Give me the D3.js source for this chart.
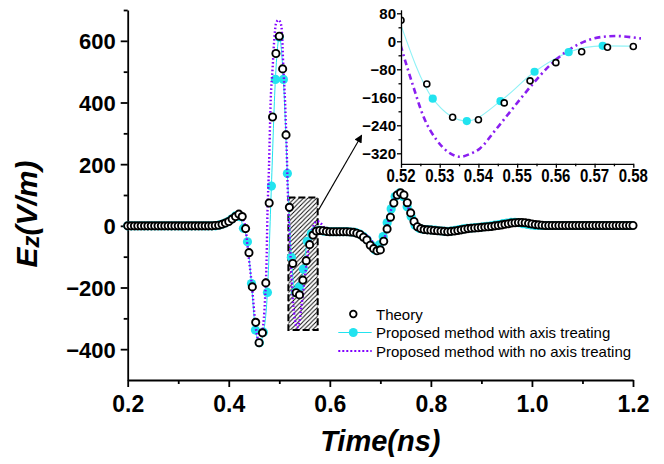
<!DOCTYPE html>
<html>
<head>
<meta charset="utf-8">
<script src="https://cdn.jsdelivr.net/npm/d3@7"></script>
<style>
  body { margin: 0; background: #fff; }
  svg { display: block; }
  text { font-family: "Liberation Sans", Arial, sans-serif; fill: #000; }
</style>
</head>
<body>
<svg id="chart" width="664" height="464"></svg>
<script>
// ---- data -------------------------------------------------------------
// Theory: analytic field sampled every 1/150 ns from 0.2 ns
const theoryStart = 0.2;
const theoryStep = 1 / 150;
const theoryValues = [
  0, 0, 0, 0, 0, 0, 0, 0, 0, 0, 0, 0, 0, 0, 0, 0, 0, 0, 0, 0, 0, 0, 0, 0, 0, 0, 1,
  2, 5, 9, 14, 22, 30, 38, 30, -9, -87, -198, -313, -379, -347, -185, 74, 353, 559,
  615, 509, 295, 60, -122, -217, -224, -176, -113, -61, -30, -17, -15, -16, -18, -19,
  -19, -19, -19, -19, -19, -20, -21, -24, -28, -37, -46, -63, -74, -81, -78, -50, -10,
  28, 74, 100, 107, 100, 75, 42, 14, -3, -9, -12, -13, -14, -15, -16, -17, -18, -19,
  -18, -17, -15, -13, -11, -9, -8, -7, -6, -5, -4, -3, -2, 0, 1, 3, 5, 7, 9, 10, 11,
  11, 10, 8, 6, 4, 3, 2, 1,
  1, 1, 1, 1, 1, 1, 1, 1, 1, 1, 1, 1, 1, 1, 1, 1, 1, 1, 1, 1, 1, 1, 1, 1, 1, 1
];

// Proposed method with axis treating: output samples every 0.0079 ns
const axisStart = 0.2;
const axisStep = 0.0079;
const axisValues = [
  0, 0, 0, 0, 0, 0, 0, 0, 0, 0, 0, 0, 0, 0, 0, 0, 0, 0, 0, 0, 0, 0, 0,
  3, 7, 13, 22, 32, 30, -8, -52, -187, -338, -379, -345, -216, 129, 475, 612, 475,
  170, -102, -215, -198, -140, -50, -25, -17, -15, -17, -18, -19, -19, -19, -19, -19,
  -20, -21, -26, -34, -45, -62, -78, -62, -35, 10, 55, 95, 106, 95, 62, 30, 2, -8,
  -11, -12, -13, -14, -16, -17, -18, -17, -15, -12, -10, -8, -7, -6, -5, -3, -2, 0,
  2, 4, 7, 9, 11, 11, 10, 7, 5, 3, 1,
  1, 1, 1, 1, 1, 1, 1, 1, 1, 1, 1, 1, 1, 1, 1, 1, 1, 1, 1, 1, 1, 1, 1, 1
];

// Proposed method with no axis treating
const noAxisTimes = [
  0.2, 0.37, 0.38, 0.39, 0.40, 0.41, 0.418, 0.423, 0.427, 0.4321, 0.4387, 0.4466,
  0.4519, 0.4565, 0.4605, 0.4635, 0.4671, 0.4717, 0.4751, 0.4763, 0.4796, 0.4830,
  0.4869, 0.4895, 0.4935, 0.498, 0.5015, 0.5047, 0.508, 0.5113, 0.5147, 0.5166,
  0.52, 0.5232, 0.5258, 0.5292, 0.5327, 0.5353, 0.5378, 0.5404, 0.5443, 0.5482,
  0.5538, 0.5585, 0.5633, 0.568, 0.5723, 0.5758, 0.58, 0.585, 0.59, 0.6, 0.62,
  0.66, 0.67, 0.68, 0.688, 0.695, 0.701, 0.706, 0.711, 0.716, 0.721, 0.728, 0.735,
  0.742, 0.75, 0.757, 0.765, 0.772, 0.78, 0.8, 0.83, 0.86, 0.9, 0.94, 0.975, 1.0,
  1.03, 1.2
];
const noAxisValues = [
  0, 0, 2, 6, 14, 27, 37, 35, 24, 4, -90, -208,
  -306, -360, -376, -370, -338, -241, -90, 18, 191, 407,
  515, 591, 656, 667, 662, 640, 515, 407, 245, 126,
  -15, -130, -215, -282, -320, -330, -322, -306, -255, -201,
  -125, -68, -25, 2, 13, 15, 11, 3, -8, -16, -19,
  -21, -28, -42, -62, -77, -74, -55, -22, 15, 51, 88, 104,
  104, 82, 50, 16, -2, -10, -13, -19, -16, -5, 3, 11, 6,
  1, 1
];

// Enlarged window 0.52-0.58 ns: axis-treated output
const zoomAxisTimes = [0.5194, 0.5282, 0.537, 0.5457, 0.5545, 0.5633, 0.5721, 0.5809];
const zoomAxisValues = [65, -164, -228, -171, -87, -31, -13, -14];

// Axes
const xTicks = [0.2, 0.4, 0.6, 0.8, 1.0, 1.2];
const xMinorTicks = [0.3, 0.5, 0.7, 0.9, 1.1];
const yTicks = [-400, -200, 0, 200, 400, 600];
const yMinorTicks = [-300, -100, 100, 300, 500, 700];
const zoomXTicks = [0.52, 0.53, 0.54, 0.55, 0.56, 0.57, 0.58];
const zoomXMinorTicks = [0.525, 0.535, 0.545, 0.555, 0.565, 0.575];
const zoomYTicks = [-320, -240, -160, -80, 0, 80];
const zoomYMinorTicks = [-280, -200, -120, -40, 40];
const legendLabels = [
  "Theory",
  "Proposed method with axis treating",
  "Proposed method with no axis treating"
];

// ---- drawing ----------------------------------------------------------
const CYAN = "#22e3ef";
const VIOLET = "#8000ff";

const theory = theoryValues.map((v, i) => ({ t: theoryStart + i * theoryStep, v }));
const axisTreated = axisValues.map((v, i) => ({ t: axisStart + i * axisStep, v }));
const noAxis = noAxisTimes.map((t, i) => ({ t, v: noAxisValues[i] }));
const zoomAxis = zoomAxisTimes.map((t, i) => ({ t, v: zoomAxisValues[i] }));

const svg = d3.select("#chart");

const x = d3.scaleLinear().domain([0.2, 1.2]).range([127.7, 633]);
const y = d3.scaleLinear().domain([-500, 700]).range([380, 10]);

// hatch pattern for the enlarged window marker
const defs = svg.append("defs");
const hatch = defs.append("pattern")
  .attr("id", "hatch").attr("patternUnits", "userSpaceOnUse")
  .attr("width", 4.4).attr("height", 4.4);
hatch.append("path")
  .attr("d", "M0,4.4 L4.4,0 M-1.1,1.1 L1.1,-1.1 M3.3,5.5 L5.5,3.3")
  .attr("stroke", "#000").attr("stroke-width", 0.9);

defs.append("marker")
  .attr("id", "arrowhead").attr("viewBox", "0 0 10 10")
  .attr("refX", 9).attr("refY", 5)
  .attr("markerWidth", 11).attr("markerHeight", 8)
  .attr("markerUnits", "userSpaceOnUse")
  .attr("orient", "auto")
  .append("path").attr("d", "M0,0 L10,5 L0,10 Z").attr("fill", "#000");

defs.append("clipPath").attr("id", "zoomClip")
  .append("rect").attr("x", 401).attr("y", 4).attr("width", 240).attr("height", 162);

// main axes
function styleAxis(g, w) {
  g.selectAll("path.domain").attr("stroke", "#000").attr("stroke-width", w);
  g.selectAll(".tick line").attr("stroke", "#000").attr("stroke-width", w);
}

const gx = svg.append("g").attr("transform", "translate(0,380)")
  .call(d3.axisBottom(x).tickValues(xTicks).tickSize(7).tickSizeOuter(0)
    .tickFormat(d3.format(".1f")));
styleAxis(gx, 1.8);
gx.selectAll("text").attr("font-size", 23).attr("font-weight", "bold")
  .attr("y", 31.7).attr("dy", null);

const gxm = svg.append("g").attr("transform", "translate(0,380)")
  .call(d3.axisBottom(x).tickValues(xMinorTicks).tickSize(4).tickFormat(""));
gxm.select("path.domain").remove();
styleAxis(gxm, 1.8);

const gy = svg.append("g").attr("transform", "translate(127.7,0)")
  .call(d3.axisLeft(y).tickValues(yTicks).tickSize(7).tickPadding(5).tickSizeOuter(0));
styleAxis(gy, 1.8);
gy.selectAll("text").attr("font-size", 22).attr("font-weight", "bold")
  .attr("dy", "0.36em");

const gym = svg.append("g").attr("transform", "translate(127.7,0)")
  .call(d3.axisLeft(y).tickValues(yMinorTicks).tickSize(4).tickFormat(""));
gym.select("path.domain").remove();
styleAxis(gym, 1.8);

// axis titles
svg.append("text")
  .attr("x", (x.range()[0] + x.range()[1]) / 2).attr("y", 451)
  .attr("text-anchor", "middle")
  .attr("font-size", 29).attr("font-weight", "bold").attr("font-style", "italic")
  .text("Time(ns)");

const yTitle = svg.append("text")
  .attr("transform", "translate(37,214) rotate(-90)")
  .attr("text-anchor", "middle")
  .attr("font-size", 30).attr("font-weight", "bold").attr("font-style", "italic");
yTitle.append("tspan").text("E");
yTitle.append("tspan").attr("font-size", 24).attr("dy", 2).text("z");
yTitle.append("tspan").attr("dy", -2).text("(V/m)");

// enlarged-window marker
const winT = [0.518, 0.576];
const winV = [92, -338];
svg.append("rect")
  .attr("x", x(winT[0])).attr("y", y(winV[0]))
  .attr("width", x(winT[1]) - x(winT[0])).attr("height", y(winV[1]) - y(winV[0]))
  .attr("fill", "url(#hatch)")
  .attr("stroke", "#000").attr("stroke-width", 2).attr("stroke-dasharray", "7,3");

// series in the main panel
const lineMain = d3.line().x(d => x(d.t)).y(d => y(d.v));

svg.append("path").datum(axisTreated)
  .attr("d", lineMain.curve(d3.curveMonotoneX))
  .attr("fill", "none").attr("stroke", CYAN).attr("stroke-width", 1);
svg.append("g").selectAll("circle").data(axisTreated).join("circle")
  .attr("cx", d => x(d.t)).attr("cy", d => y(d.v)).attr("r", 4.6)
  .attr("fill", CYAN);

svg.append("path").datum(noAxis)
  .attr("d", lineMain.curve(d3.curveMonotoneX))
  .attr("fill", "none").attr("stroke", VIOLET).attr("stroke-width", 2.4)
  .attr("stroke-dasharray", "1.6,2.2");

svg.append("g").selectAll("circle").data(theory).join("circle")
  .attr("cx", d => x(d.t)).attr("cy", d => y(d.v)).attr("r", 3.6)
  .attr("fill", "#fff").attr("stroke", "#000").attr("stroke-width", 1.9);

// pointer to the enlarged view
const arrowFrom = [0.5775, 51];
const arrowTo = [0.663, 294];
svg.append("line")
  .attr("x1", x(arrowFrom[0])).attr("y1", y(arrowFrom[1]))
  .attr("x2", x(arrowTo[0])).attr("y2", y(arrowTo[1]))
  .attr("stroke", "#000").attr("stroke-width", 1.1)
  .attr("marker-end", "url(#arrowhead)");

// ---- enlarged view 0.52 - 0.58 ns --------------------------------------
const xi = d3.scaleLinear().domain([0.52, 0.58]).range([401, 633.3]);
const yi = d3.scaleLinear().domain([-350, 90]).range([163.8, 9.8]);
const inset = svg.append("g");
const plot = inset.append("g").attr("clip-path", "url(#zoomClip)");
const lineZoom = d3.line().x(d => xi(d.t)).y(d => yi(d.v)).curve(d3.curveMonotoneX);

plot.append("path").datum(zoomAxis).attr("d", lineZoom)
  .attr("fill", "none").attr("stroke", "#8ff2f6").attr("stroke-width", 1.1);
plot.append("path").datum(noAxis.filter(d => d.t >= 0.51 && d.t <= 0.59)).attr("d", lineZoom)
  .attr("fill", "none").attr("stroke", "#8a1ef0").attr("stroke-width", 2.6)
  .attr("stroke-dasharray", "6,3.5,2,3.5");
plot.append("g").selectAll("circle")
  .data(zoomAxis.filter(d => d.t >= 0.52 && d.t <= 0.58)).join("circle")
  .attr("cx", d => xi(d.t)).attr("cy", d => yi(d.v)).attr("r", 4.1).attr("fill", CYAN);
plot.append("g").selectAll("circle")
  .data(theory.filter(d => d.t > 0.515 && d.t < 0.585)).join("circle")
  .attr("cx", d => xi(d.t)).attr("cy", d => yi(d.v)).attr("r", 3)
  .attr("fill", "#fff").attr("stroke", "#000").attr("stroke-width", 1.6);

const gxi = inset.append("g").attr("transform", `translate(0,${yi(-350)})`)
  .call(d3.axisBottom(xi).tickValues(zoomXTicks).tickSize(4).tickSizeOuter(0).tickFormat(""));
styleAxis(gxi, 1.3);
const gxim = inset.append("g").attr("transform", `translate(0,${yi(-350)})`)
  .call(d3.axisBottom(xi).tickValues(zoomXMinorTicks).tickSize(2.5).tickFormat(""));
gxim.select("path.domain").remove();
styleAxis(gxim, 1.3);
inset.append("g").selectAll("text").data(zoomXTicks).join("text")
  .attr("transform", d => `translate(${xi(d)},181.7) scale(1,1.22)`)
  .attr("text-anchor", "middle").attr("font-size", 15).attr("font-weight", "bold")
  .text(d3.format(".2f"));

const gyi = inset.append("g").attr("transform", "translate(401,0)")
  .call(d3.axisLeft(yi).tickValues(zoomYTicks).tickSize(4).tickPadding(1).tickSizeOuter(0));
styleAxis(gyi, 1.3);
gyi.selectAll("text").attr("font-size", 15).attr("font-weight", "bold").attr("dy", "0.36em");
const gyim = inset.append("g").attr("transform", "translate(401,0)")
  .call(d3.axisLeft(yi).tickValues(zoomYMinorTicks).tickSize(2.5).tickFormat(""));
gyim.select("path.domain").remove();
styleAxis(gyim, 1.3);

// ---- legend -------------------------------------------------------------
const legend = svg.append("g").attr("transform", "translate(353.3,314)");
const rowGap = 18.5;
legend.append("circle").attr("cx", 0).attr("cy", 0).attr("r", 3.3)
  .attr("fill", "#fff").attr("stroke", "#000").attr("stroke-width", 1.8);
legend.append("line").attr("x1", -15).attr("x2", 18.4).attr("y1", rowGap).attr("y2", rowGap)
  .attr("stroke", CYAN).attr("stroke-width", 1);
legend.append("circle").attr("cx", 0).attr("cy", rowGap).attr("r", 4.5).attr("fill", CYAN);
legend.append("line").attr("x1", -15).attr("x2", 18.4).attr("y1", 2 * rowGap).attr("y2", 2 * rowGap)
  .attr("stroke", VIOLET).attr("stroke-width", 2.2).attr("stroke-dasharray", "2,2");
legend.selectAll("text.lbl").data(legendLabels).join("text").attr("class", "lbl")
  .attr("x", 22.7).attr("y", (d, i) => i * rowGap + 5.5)
  .attr("font-size", 15).text(d => d);
</script>
</body>
</html>
